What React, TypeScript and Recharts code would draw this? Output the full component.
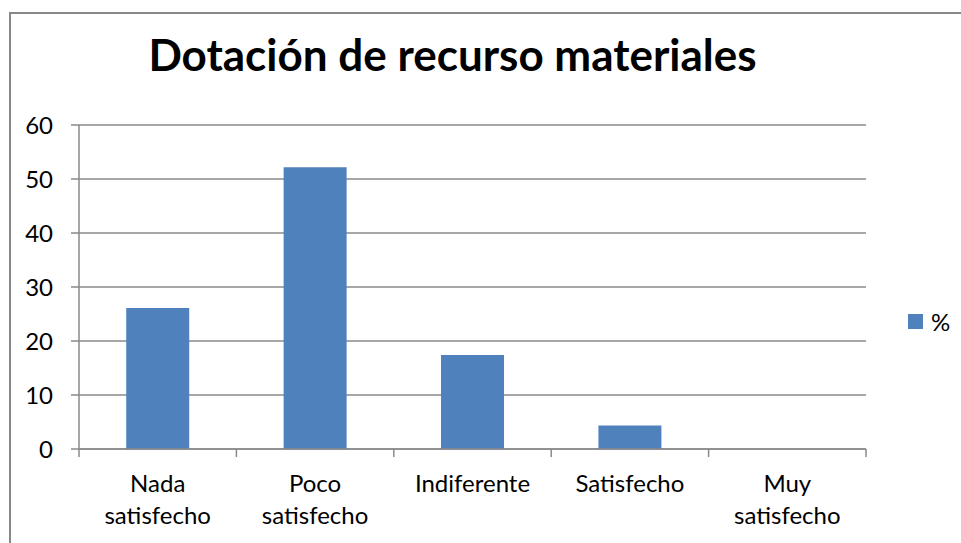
import { Bar, BarChart, CartesianGrid, Legend, XAxis, YAxis } from 'recharts'

const categories = ['Nada satisfecho', 'Poco satisfecho', 'Indiferente', 'Satisfecho', 'Muy satisfecho']
const percent = [26.09, 52.17, 17.39, 4.35, 0]
const yTicks = [0, 10, 20, 30, 40, 50, 60]
const edgeTicks = [0, 1, 2, 3, 4, 5]

const data = categories.map((name, i) => ({ name, idx: i + 0.5, value: percent[i] }))

const font = 'Lato, "Open Sans", sans-serif'
const gridColor = '#8a8a8a'
const barColor = '#4f81bd'

// category labels break on the space, like the original two-line labels
const CategoryTick = ({ x, y, payload }: any) => {
  const lines = String(payload.value).split(' ')
  return (
    <text x={x} y={y} textAnchor="middle" fill="#000" fontSize={24} fontFamily={font}>
      {lines.map((line: string, i: number) => (
        <tspan key={i} x={x} dy={i === 0 ? 34 : 32}>
          {line}
        </tspan>
      ))}
    </text>
  )
}

const LegendContent = ({ payload }: any) => (
  <div style={{ display: 'flex', alignItems: 'center', fontFamily: font, fontSize: 24 }}>
    {(payload || []).map((p: any) => (
      <div key={p.value} style={{ display: 'flex', alignItems: 'center' }}>
        <span style={{ width: 15, height: 15, background: p.color, display: 'inline-block', marginRight: 8 }} />
        <span style={{ color: '#000' }}>{p.value}</span>
      </div>
    ))}
  </div>
)

export default function App() {
  return (
    <div style={{ position: 'absolute', left: 0, top: 0, width: 961, height: 543, background: '#fff', overflow: 'hidden' }}>
      <div
        style={{
          position: 'absolute',
          left: 9,
          top: 12,
          width: 960,
          height: 540,
          border: '2px solid #888',
          boxSizing: 'border-box',
        }}
      />
      <div
        style={{
          position: 'absolute',
          left: 0,
          width: 905,
          top: 29,
          textAlign: 'center',
          fontFamily: font,
          fontWeight: 700,
          fontSize: 44,
          lineHeight: '50px',
          color: '#000',
        }}
      >
        Dotación de recurso materiales
      </div>
      <div style={{ position: 'absolute', left: 0, top: 0 }}>
        <BarChart
          width={961}
          height={543}
          data={data}
          barCategoryGap="30%"
          margin={{ top: 125, right: 95, left: 19, bottom: 14 }}
        >
          <CartesianGrid vertical={false} stroke={gridColor} strokeWidth={1.5} />
          <XAxis
            xAxisId="b"
            dataKey="name"
            axisLine={false}
            tickLine={false}
            height={79}
            interval={0}
            tick={<CategoryTick />}
          />
          <XAxis
            xAxisId="a"
            type="number"
            dataKey="idx"
            domain={[0, 5]}
            ticks={edgeTicks}
            tickFormatter={() => ''}
            height={1}
            tickSize={8}
            stroke={gridColor}
            tickLine={{ stroke: gridColor, strokeWidth: 1.5 }}
            axisLine={{ stroke: gridColor, strokeWidth: 1.5 }}
          />
          <YAxis
            domain={[0, 60]}
            ticks={yTicks}
            width={60}
            tickSize={8}
            tickMargin={18}
            stroke={gridColor}
            strokeWidth={1.5}
            tick={{ fill: '#000', fontSize: 24, fontFamily: font }}
          />
          <Legend
            layout="vertical"
            verticalAlign="middle"
            align="center"
            content={<LegendContent />}
            wrapperStyle={{ left: 908, top: 307, width: 60 }}
          />
          <Bar xAxisId="b" dataKey="value" name="%" fill={barColor} isAnimationActive={false} />
        </BarChart>
      </div>
    </div>
  )
}
